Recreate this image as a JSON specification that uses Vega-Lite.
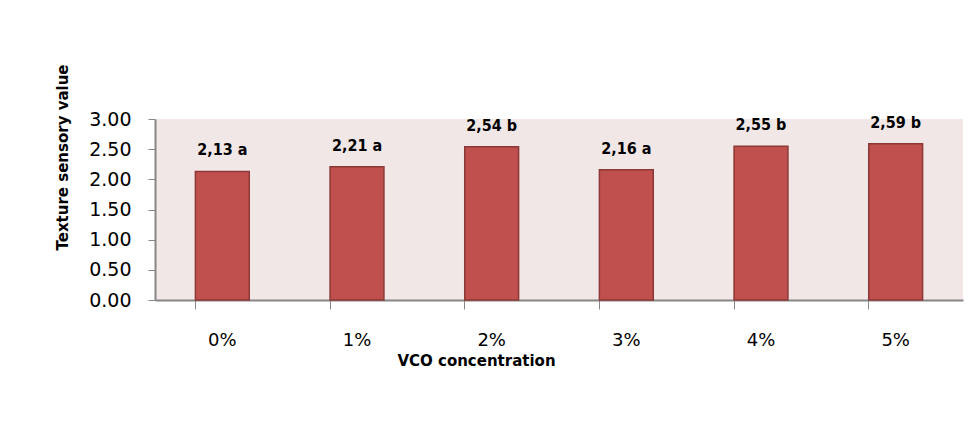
{
  "$schema": "https://vega.github.io/schema/vega-lite/v6.json",
  "width": 808,
  "height": 181,
  "autosize": {"type": "none"},
  "padding": {"left": 155, "top": 119, "right": 15, "bottom": 128},
  "background": "white",
  "config": {
    "view": {"fill": "#f2e7e7", "stroke": null},
    "font": "DejaVu Sans, sans-serif"
  },
  "data": {
    "values": [
      {"conc": "0%", "value": 2.13, "label": "2,13 a"},
      {"conc": "1%", "value": 2.21, "label": "2,21 a"},
      {"conc": "2%", "value": 2.54, "label": "2,54 b"},
      {"conc": "3%", "value": 2.16, "label": "2,16 a"},
      {"conc": "4%", "value": 2.55, "label": "2,55 b"},
      {"conc": "5%", "value": 2.59, "label": "2,59 b"}
    ]
  },
  "encoding": {
    "x": {
      "field": "conc",
      "type": "nominal",
      "sort": null,
      "scale": {"paddingInner": 0.6, "paddingOuter": 0.3},
      "axis": {
        "title": "VCO concentration",
        "titleFont": "DejaVu Sans, sans-serif",
        "titleFontSize": 15,
        "titleFontWeight": "bold",
        "titleColor": "#000",
        "titleAnchor": "start",
        "titleAlign": "center",
        "titleBaseline": "middle",
        "titleX": 321,
        "titleY": 60,
        "labelAngle": 0,
        "labelFontSize": 18,
        "labelColor": "#000",
        "labelPadding": 22,
        "labelFont": "DejaVu Sans, sans-serif",
        "bandPosition": 0,
        "tickSize": 9,
        "tickColor": "#868686",
        "domainColor": "#868686",
        "domainWidth": 2,
        "grid": false
      }
    },
    "y": {
      "field": "value",
      "type": "quantitative",
      "scale": {"domain": [0, 3]},
      "axis": {
        "title": "Texture sensory value",
        "titleFont": "DejaVu Sans, sans-serif",
        "titleFontSize": 15,
        "titleFontWeight": "bold",
        "titleColor": "#000",
        "titleAnchor": "start",
        "titleAlign": "center",
        "titleBaseline": "middle",
        "titleX": -93,
        "titleY": 38,
        "values": [0, 0.5, 1, 1.5, 2, 2.5, 3],
        "format": ".2f",
        "labelFontSize": 19,
        "labelFont": "DejaVu Sans, sans-serif",
        "labelColor": "#000",
        "labelPadding": 17,
        "tickSize": 7,
        "tickColor": "#868686",
        "domainColor": "#868686",
        "domainWidth": 2,
        "grid": false
      }
    }
  },
  "layer": [
    {
      "mark": {"type": "bar", "color": "#c0504d", "stroke": "#8c3836", "strokeWidth": 1.5}
    },
    {
      "mark": {"type": "text", "baseline": "bottom", "dy": -13, "fontSize": 16, "fontWeight": "bold", "font": "DejaVu Sans Condensed, sans-serif", "color": "#000"},
      "encoding": {"text": {"field": "label"}}
    }
  ]
}
